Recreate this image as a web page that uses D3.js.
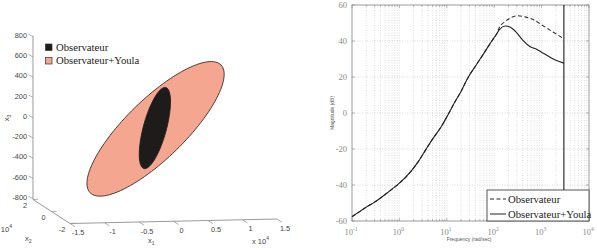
<!DOCTYPE html>
<html><head><meta charset="utf-8">
<script src="https://cdn.jsdelivr.net/npm/d3@7"></script>
<style>body{margin:0;background:#fff}svg{display:block}</style>
</head><body>
<svg id="c" width="597" height="252"></svg>
<script>
// ---------- Left chart data ----------
const x1Ticks = [-1.5, -1, -0.5, 0, 0.5, 1, 1.5];
const x1TickLabels = ["-1.5", "-1", "-0.5", "0", "0.5", "1", "1.5"];
const x2Ticks = [2, 0, -2];
const x3Ticks = [800, 600, 400, 200, 0, -200, -400, -600, -800];
// ellipses (x1 in 1e4 units, x3): center, conjugate half-axis vectors
const ellipseNames = ["Observateur+Youla", "Observateur"];
const ellipseCenterX1 = [-0.26, -0.27];
const ellipseCenterX3 = [-120, -112];
const ellipseU = [[0.948, 631], [0.159, 400]];
const ellipseV = [[0.30, -209], [0.161, -29.6]];
const ellipseFill = ["#F4A690", "#1e1b1b"];

// ---------- Right chart data ----------
const freqCommon = [0.1, 0.15, 0.2, 0.3, 0.5, 0.7, 1.0, 1.68, 2.5, 3.64, 5, 7.8, 10, 15, 20, 28.5, 40, 60, 89, 110];
const magCommon = [-57.6, -54.5, -52.3, -49.5, -45.3, -42.3, -39, -33, -27, -20.2, -14.5, -7.2, -2.2, 6.4, 12, 20, 26, 33, 40, 43.5];
const freqYoula = [130, 170, 220, 300, 400, 575, 800, 1000, 1400, 2000, 2950];
const magYoula = [46.4, 48.3, 47.6, 44.5, 40.5, 36.8, 35.3, 33.8, 31.5, 29.3, 27.7];
const freqObs = [130, 170, 220, 316, 450, 660, 1000, 1740, 2950];
const magObs = [47.8, 50.8, 52.8, 54, 53.4, 52, 49, 45, 41.3];
const nyquistFreq = 2950;
const magTicks = [60, 40, 20, 0, -20, -40, -60];
const freqDecades = [-1, 0, 1, 2, 3, 4];

const svg = d3.select("#c");

// ================= LEFT CHART =================
const L = svg.append("g");
const axCol = "#9a9a9a", txtCol = "#444";
const x1X = d3.scaleLinear().domain([-1.5, 1.5]).range([70, 277]);
const x1Y = d3.scaleLinear().domain([-1.5, 1.5]).range([223.5, 219]);
const x3Y = d3.scaleLinear().domain([-800, 800]).range([197.7, 35.7]);
const x2X = d3.scaleLinear().domain([2, -2]).range([33, 70]);
const x2Y = d3.scaleLinear().domain([2, -2]).range([199.5, 223.5]);
const zAxisX = 33;

// ellipses
ellipseNames.forEach((n, i) => {
  const pts = d3.range(0, 361, 3).map(deg => {
    const t = deg * Math.PI / 180;
    const a = ellipseCenterX1[i] + ellipseU[i][0] * Math.cos(t) + ellipseV[i][0] * Math.sin(t);
    const b = ellipseCenterX3[i] + ellipseU[i][1] * Math.cos(t) + ellipseV[i][1] * Math.sin(t);
    return [x1X(a), x3Y(b)];
  });
  L.append("path").attr("d", d3.line().curve(d3.curveLinearClosed)(pts))
    .attr("fill", ellipseFill[i]).attr("stroke", i === 0 ? "#3a2a26" : "#1e1b1b").attr("stroke-width", 0.9);
});

// z axis (x3)
L.append("line").attr("x1", zAxisX).attr("x2", zAxisX).attr("y1", x3Y(800)).attr("y2", x3Y(-800) + 1.8)
  .attr("stroke", axCol).attr("stroke-width", 1);
x3Ticks.forEach(v => {
  const y = x3Y(v);
  L.append("line").attr("x1", zAxisX - 4.5).attr("y1", y - 1.5).attr("x2", zAxisX).attr("y2", y + 1)
    .attr("stroke", axCol).attr("stroke-width", 0.8);
  L.append("text").attr("x", 27).attr("y", y - 0.5).attr("dy", "0.35em").attr("text-anchor", "end")
    .attr("font-family", "Liberation Sans, Arial, sans-serif").attr("font-size", 7.3).attr("fill", txtCol).text(v);
});
L.append("text").attr("transform", "translate(9,118) rotate(-90)").attr("text-anchor", "middle")
  .attr("font-family", "Liberation Sans, Arial, sans-serif").attr("font-size", 7.5).attr("fill", txtCol)
  .html('x<tspan font-size="5" dy="2">3</tspan>');

// x2 axis
L.append("line").attr("x1", x2X(2)).attr("y1", x2Y(2)).attr("x2", x2X(-2)).attr("y2", x2Y(-2))
  .attr("stroke", axCol).attr("stroke-width", 1);
x2Ticks.forEach(v => {
  const x = x2X(v), y = x2Y(v);
  L.append("line").attr("x1", x).attr("y1", y).attr("x2", x + 5).attr("y2", y - 0.2)
    .attr("stroke", axCol).attr("stroke-width", 0.8);
  L.append("text").attr("x", x - 8).attr("y", y + 6).attr("dy", "0.35em").attr("text-anchor", "middle")
    .attr("font-family", "Liberation Sans, Arial, sans-serif").attr("font-size", 7.3).attr("fill", txtCol).text(v);
});
L.append("text").attr("x", 25).attr("y", 241).attr("font-family", "Liberation Sans, Arial, sans-serif")
  .attr("font-size", 7.5).attr("fill", txtCol).html('x<tspan font-size="5" dy="2">2</tspan>');
L.append("text").attr("x", 12).attr("y", 232).attr("text-anchor", "end").attr("font-family", "Liberation Sans, Arial, sans-serif")
  .attr("font-size", 7.5).attr("fill", txtCol).html('x 10<tspan font-size="5" dy="-4">4</tspan>');

// x1 axis
L.append("line").attr("x1", x1X(-1.5)).attr("y1", x1Y(-1.5)).attr("x2", x1X(1.5)).attr("y2", x1Y(1.5))
  .attr("stroke", axCol).attr("stroke-width", 1);
x1Ticks.forEach((v, i) => {
  const x = x1X(v), y = x1Y(v);
  L.append("line").attr("x1", x).attr("y1", y).attr("x2", x + 5).attr("y2", y + 3.2)
    .attr("stroke", axCol).attr("stroke-width", 0.8);
  L.append("text").attr("x", x + 8).attr("y", y + 9).attr("dy", "0.35em").attr("text-anchor", "middle")
    .attr("font-family", "Liberation Sans, Arial, sans-serif").attr("font-size", 7.3).attr("fill", txtCol).text(x1TickLabels[i]);
});
L.append("text").attr("x", 148).attr("y", 243).attr("font-family", "Liberation Sans, Arial, sans-serif")
  .attr("font-size", 7.5).attr("fill", txtCol).html('x<tspan font-size="5" dy="2">1</tspan>');
L.append("text").attr("x", 252).attr("y", 244).attr("font-family", "Liberation Sans, Arial, sans-serif")
  .attr("font-size", 7.5).attr("fill", txtCol).html('x 10<tspan font-size="5" dy="-4">4</tspan>');

// legend left
[["Observateur", "#1e1b1b"], ["Observateur+Youla", "#F4A690"]].forEach((d, i) => {
  const y = 44 + i * 13.5;
  L.append("rect").attr("x", 45.5).attr("y", y).attr("width", 6.5).attr("height", 6.5)
    .attr("fill", d[1]).attr("stroke", "#333").attr("stroke-width", 0.7);
  L.append("text").attr("x", 56).attr("y", y + 6.5).attr("font-family", "Liberation Serif, Times New Roman, serif")
    .attr("font-size", 10.7).attr("fill", "#222").text(d[0]);
});

// ================= RIGHT CHART =================
const R = svg.append("g");
const xR = d3.scaleLog().domain([0.1, 1e4]).range([352, 589]);
const yR = d3.scaleLinear().domain([-60, 60]).range([221, 5]);
const gridCol = "#c8c8c8", boxCol = "#8a8a8a";

// grid
const minorFreqs = [];
freqDecades.slice(0, -1).forEach(e => { for (let k = 1; k < 10; k++) minorFreqs.push(k * Math.pow(10, e)); });
minorFreqs.push(1e4);
minorFreqs.forEach(f => {
  R.append("line").attr("x1", xR(f)).attr("x2", xR(f)).attr("y1", yR(60)).attr("y2", yR(-60))
    .attr("stroke", gridCol).attr("stroke-width", 0.6).attr("stroke-dasharray", "1,1.5");
});
magTicks.forEach(m => {
  R.append("line").attr("x1", xR(0.1)).attr("x2", xR(1e4)).attr("y1", yR(m)).attr("y2", yR(m))
    .attr("stroke", gridCol).attr("stroke-width", 0.6).attr("stroke-dasharray", "1,1.5");
});

// ticks
minorFreqs.forEach(f => {
  const isMajor = Math.abs(Math.log10(f) - Math.round(Math.log10(f))) < 1e-9;
  const len = isMajor ? 3 : 1.8;
  R.append("line").attr("x1", xR(f)).attr("x2", xR(f)).attr("y1", yR(-60)).attr("y2", yR(-60) - len).attr("stroke", boxCol).attr("stroke-width", 0.6);
  R.append("line").attr("x1", xR(f)).attr("x2", xR(f)).attr("y1", yR(60)).attr("y2", yR(60) + len).attr("stroke", boxCol).attr("stroke-width", 0.6);
});
magTicks.forEach(m => {
  R.append("line").attr("x1", xR(0.1)).attr("x2", xR(0.1) + 3).attr("y1", yR(m)).attr("y2", yR(m)).attr("stroke", boxCol).attr("stroke-width", 0.6);
  R.append("line").attr("x1", xR(1e4)).attr("x2", xR(1e4) - 3).attr("y1", yR(m)).attr("y2", yR(m)).attr("stroke", boxCol).attr("stroke-width", 0.6);
  R.append("text").attr("x", 347).attr("y", yR(m)).attr("dy", "0.35em").attr("text-anchor", "end")
    .attr("font-family", "Liberation Serif, Times New Roman, serif").attr("font-size", 8.5).attr("fill", "#8a8a8a").text(m);
});
freqDecades.forEach(e => {
  R.append("text").attr("x", xR(Math.pow(10, e)) - 1).attr("y", 235).attr("text-anchor", "middle")
    .attr("font-family", "Liberation Serif, Times New Roman, serif").attr("font-size", 8.5).attr("fill", "#8a8a8a")
    .html('10<tspan font-size="5.5" dy="-4">' + e + '</tspan>');
});

// box
R.append("rect").attr("x", xR(0.1)).attr("y", yR(60)).attr("width", xR(1e4) - xR(0.1)).attr("height", yR(-60) - yR(60))
  .attr("fill", "none").attr("stroke", boxCol).attr("stroke-width", 0.8);

// axis labels
R.append("text").attr("x", 469).attr("y", 241).attr("text-anchor", "middle")
  .attr("font-family", "Liberation Sans, Arial, sans-serif").attr("font-size", 5).attr("fill", "#555").text("Frequency  (rad/sec)");
R.append("text").attr("transform", "translate(334,113) rotate(-90)").attr("text-anchor", "middle")
  .attr("font-family", "Liberation Sans, Arial, sans-serif").attr("font-size", 5).attr("fill", "#555").text("Magnitude (dB)");

// curves
const line = d3.line().x(d => xR(d[0])).y(d => yR(d[1])).curve(d3.curveMonotoneX);
const common = freqCommon.map((f, i) => [f, magCommon[i]]);
const youla = common.concat(freqYoula.map((f, i) => [f, magYoula[i]]));
const obs = common.concat(freqObs.map((f, i) => [f, magObs[i]]));
R.append("path").attr("d", line(obs)).attr("fill", "none").attr("stroke", "#333").attr("stroke-width", 1.1).attr("stroke-dasharray", "4,2.5");
R.append("path").attr("d", line(youla)).attr("fill", "none").attr("stroke", "#222").attr("stroke-width", 1.1);

// nyquist line
R.append("line").attr("x1", xR(nyquistFreq)).attr("x2", xR(nyquistFreq)).attr("y1", yR(60)).attr("y2", yR(-60))
  .attr("stroke", "#222").attr("stroke-width", 1.1);

// legend right
R.append("rect").attr("x", 487).attr("y", 190).attr("width", 102).attr("height", 31)
  .attr("fill", "#fff").attr("stroke", "#444").attr("stroke-width", 0.9);
[["Observateur", "4,2.5"], ["Observateur+Youla", null]].forEach((d, i) => {
  const y = 199 + i * 15;
  const l = R.append("line").attr("x1", 490).attr("x2", 506).attr("y1", y).attr("y2", y).attr("stroke", "#222").attr("stroke-width", 1);
  if (d[1]) l.attr("stroke-dasharray", d[1]);
  R.append("text").attr("x", 508).attr("y", y).attr("dy", "0.35em")
    .attr("font-family", "Liberation Serif, Times New Roman, serif").attr("font-size", 10.7).attr("fill", "#222").text(d[0]);
});
</script>
</body></html>
